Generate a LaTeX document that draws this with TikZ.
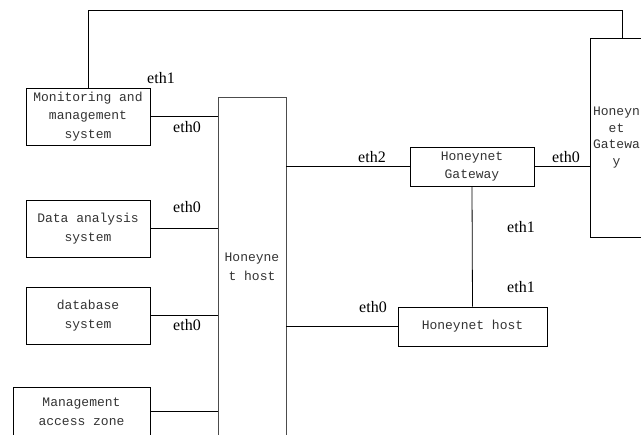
\documentclass[tikz,border=0pt]{standalone}
\usepackage{fontspec}
\setmainfont{Liberation Serif}
\newfontfamily\boxfont{Liberation Mono}

\tikzset{
  sysbox/.style={draw, line width=0.8pt, inner sep=0pt, align=center, text=black!80,
    font=\boxfont\fontsize{13}{18.5}\selectfont},
  port/.style={font=\fontsize{16}{16}\selectfont, inner sep=0pt},
  link/.style={line width=0.8pt}
}

\begin{document}
\begin{tikzpicture}[x=1pt,y=-1pt]
\useasboundingbox (0,0) rectangle (641,435);
\clip (0,0) rectangle (641,435);

% Left column systems
\node[sysbox, minimum width=124pt, minimum height=57pt] (mon) at (88,116.5) {Monitoring and\\management\\system};
\node[sysbox, minimum width=124pt, minimum height=57pt] (ana) at (88,228.5) {Data analysis\\system};
\node[sysbox, minimum width=124pt, minimum height=57pt] (db) at (88,315.5) {database\\system};
\node[sysbox, minimum width=137pt, minimum height=49pt] (mgmt) at (81.5,411.5) {Management\\access zone};

% Central honeynet host
\node[sysbox, draw=black!70, minimum width=68pt, minimum height=340pt] (host) at (252,267) {Honeyne\\t host};

% Gateways and second host
\node[sysbox, minimum width=124pt, minimum height=39pt] (gw) at (472,166.5) {Honeynet\\Gateway};
\node[sysbox, minimum width=149pt, minimum height=39pt] (hh) at (472.5,326.5) {Honeynet host};
\node[sysbox, minimum width=53pt, minimum height=199pt,
  font=\boxfont\fontsize{13}{16.5}\selectfont] (gwR) at (616.5,137.5) {Honeyn\\et\\Gatewa\\y};

% Links to the host
\draw[link] (mon.east) -- (mon.east -| host.west);
\draw[link] (ana.east) -- (ana.east -| host.west);
\draw[link] (db.east) -- (db.east -| host.west);
\draw[link] (mgmt.east) -- (mgmt.east -| host.west);
\draw[link] (host.east |- gw.west) -- (gw.west);
\draw[link] (host.east |- hh.west) -- (hh.west);
\draw[link] (gw.east) -- (gw.east -| gwR.west);
\draw[link] (gw.south) -- (hh.north);

% Top loop from monitoring to gateway
\coordinate (loopL) at (88,10);
\coordinate (loopR) at (622,10);
\draw[link] (mon.north -| loopL) -- (loopL) -- (loopR) -- (loopR |- gwR.north);

% Port labels
\node[port] (monEth1) at (161,78) {eth1};
\node[port] (monEth0) at (187,127) {eth0};
\node[port] (anaEth0) at (187,207) {eth0};
\node[port] (dbEth0) at (187,325) {eth0};
\node[port] (hostEth2) at (372,157) {eth2};
\node[port] (gwEth0) at (566,157) {eth0};
\node[port] (gwEth1) at (521,227) {eth1};
\node[port] (hhEth1) at (521,287) {eth1};
\node[port] (hostEth0) at (373,307) {eth0};
\end{tikzpicture}
\end{document}
